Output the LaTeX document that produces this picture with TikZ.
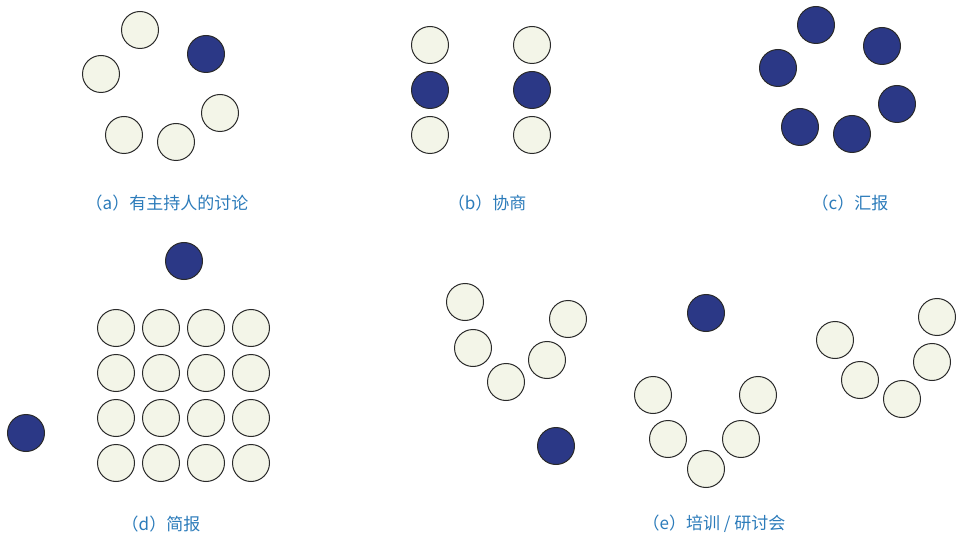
\documentclass[tikz,border=0pt]{standalone}
\usepackage{fontspec}
\newfontfamily\cjk{Noto Sans CJK SC}
\usetikzlibrary{positioning}
\definecolor{navy}{HTML}{2B3886}
\definecolor{ivory}{HTML}{F3F5E8}
\definecolor{rim}{HTML}{2A2A2A}
\definecolor{capblue}{HTML}{2B7BBA}

\begin{document}
\begin{tikzpicture}[x=1pt, y=-1pt,
  seat/.style={circle, draw=rim, line width=1pt, fill=ivory, minimum size=37pt, inner sep=0pt},
  lead/.style={seat, fill=navy},
  caption/.style={text=capblue, font=\cjk\fontsize{17}{17}\selectfont}]

% Frame
\useasboundingbox (0,0) rectangle (958,537);

% (a) discussion with a host
\node[lead] (a1) at (206,54) {};
\foreach \x/\y [count=\i from 2] in {140/30, 101/74, 220/113, 124/135, 176/142} {
  \node[seat] (a\i) at (\x,\y) {};
}
\node[caption] (capa) at (167,203) {（a）有主持人的讨论};

% (b) negotiation
\foreach \x [count=\i] in {430, 532} {
  \node[seat] (bt\i) at (\x,45) {};
  \node[lead] (bm\i) at (\x,90) {};
  \node[seat] (bb\i) at (\x,135) {};
}
\node[caption] (capb) at (487,203) {（b）协商};

% (c) report
\foreach \x/\y [count=\i] in {816/25, 882/46, 778/68, 897/104, 800/127, 852/134} {
  \node[lead] (c\i) at (\x,\y) {};
}
\node[caption] (capc) at (850,203) {（c）汇报};

% (d) briefing
\node[lead] (dtop) at (184,261) {};
\node[lead] (dside) at (26,433) {};
\foreach \r in {0,...,3} {
  \foreach \c in {0,...,3} {
    \node[seat] (d\r\c) at (116+\c*45, 328+\r*45) {};
  }
}
\node[caption] (capd) at (161,524) {（d）简报};

% (e) training / workshop
\foreach \x/\y [count=\i] in {465/302, 568/319, 473/348, 547/360, 506/382} {
  \node[seat] (el\i) at (\x,\y) {};
}
\node[lead] (ellead) at (556,446) {};
\node[lead] (emlead) at (706,313) {};
\foreach \x/\y [count=\i] in {653/395, 758/395, 668/439, 741/439, 706/469} {
  \node[seat] (em\i) at (\x,\y) {};
}
\foreach \x/\y [count=\i] in {937/317, 835/340, 932/362, 860/380, 902/399} {
  \node[seat] (er\i) at (\x,\y) {};
}
\node[caption] (cape) at (714,524) {（e）培训 / 研讨会};

\end{tikzpicture}
\end{document}
